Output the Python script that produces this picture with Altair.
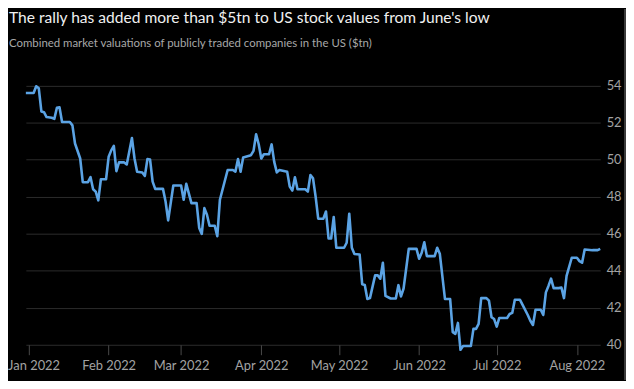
import altair as alt
import pandas as pd

dates = [
    "2021-12-31", "2022-01-03", "2022-01-04", "2022-01-05", "2022-01-06", "2022-01-07",
    "2022-01-08", "2022-01-10", "2022-01-11", "2022-01-12", "2022-01-13", "2022-01-14",
    "2022-01-17", "2022-01-18", "2022-01-19", "2022-01-21", "2022-01-22", "2022-01-24",
    "2022-01-25", "2022-01-26", "2022-01-27", "2022-01-28", "2022-01-29", "2022-01-31",
    "2022-02-01", "2022-02-02", "2022-02-03", "2022-02-04", "2022-02-05", "2022-02-07",
    "2022-02-08", "2022-02-10", "2022-02-11", "2022-02-12", "2022-02-14", "2022-02-15",
    "2022-02-16", "2022-02-17", "2022-02-18", "2022-02-19", "2022-02-22", "2022-02-23",
    "2022-02-24", "2022-02-26", "2022-03-01", "2022-03-02", "2022-03-03", "2022-03-05",
    "2022-03-07", "2022-03-08", "2022-03-09", "2022-03-10", "2022-03-11", "2022-03-12",
    "2022-03-14", "2022-03-15", "2022-03-16", "2022-03-19", "2022-03-21", "2022-03-22",
    "2022-03-23", "2022-03-24", "2022-03-25", "2022-03-27", "2022-03-28", "2022-03-29",
    "2022-03-30", "2022-03-31", "2022-04-01", "2022-04-02", "2022-04-04", "2022-04-05",
    "2022-04-06", "2022-04-07", "2022-04-08", "2022-04-11", "2022-04-12", "2022-04-13",
    "2022-04-14", "2022-04-15", "2022-04-18", "2022-04-19", "2022-04-20", "2022-04-21",
    "2022-04-22", "2022-04-23", "2022-04-25", "2022-04-26", "2022-04-27", "2022-04-28",
    "2022-04-29", "2022-04-30", "2022-05-03", "2022-05-04", "2022-05-05", "2022-05-06",
    "2022-05-07", "2022-05-09", "2022-05-10", "2022-05-11", "2022-05-12", "2022-05-13",
    "2022-05-15", "2022-05-16", "2022-05-17", "2022-05-18", "2022-05-19", "2022-05-21",
    "2022-05-23", "2022-05-24", "2022-05-25", "2022-05-26", "2022-05-28", "2022-05-31",
    "2022-06-01", "2022-06-02", "2022-06-03", "2022-06-04", "2022-06-07", "2022-06-08",
    "2022-06-09", "2022-06-11", "2022-06-13", "2022-06-14", "2022-06-15", "2022-06-16",
    "2022-06-17", "2022-06-18", "2022-06-21", "2022-06-22", "2022-06-23", "2022-06-24",
    "2022-06-25", "2022-06-27", "2022-06-28", "2022-06-29", "2022-06-30", "2022-07-01",
    "2022-07-02", "2022-07-05", "2022-07-06", "2022-07-07", "2022-07-08", "2022-07-10",
    "2022-07-11", "2022-07-13", "2022-07-14", "2022-07-15", "2022-07-16", "2022-07-18",
    "2022-07-19", "2022-07-20", "2022-07-21", "2022-07-22", "2022-07-23", "2022-07-25",
    "2022-07-26", "2022-07-27", "2022-07-28", "2022-07-30", "2022-08-01", "2022-08-02",
    "2022-08-03", "2022-08-04", "2022-08-07", "2022-08-09", "2022-08-10",
]

values = [
    53.6, 53.6, 53.96, 53.85, 52.6, 52.56,
    52.3, 52.26, 52.2, 52.8, 52.83, 52.03,
    52.03, 51.85, 50.87, 50.06, 48.78, 48.78,
    49.05, 48.4, 48.27, 47.8, 48.94, 48.94,
    50.15, 50.5, 50.74, 49.38, 49.85, 49.85,
    49.74, 51.17, 50.06, 49.35, 49.3, 49.12,
    50.03, 50.01, 48.81, 48.42, 48.42, 47.74,
    46.72, 48.6, 48.6, 47.83, 48.69, 47.65,
    47.65, 46.31, 45.99, 47.38, 47.02, 46.43,
    46.43, 45.86, 47.83, 49.44, 49.44, 49.35,
    50.03, 49.35, 50.12, 50.2, 50.24, 50.47,
    51.37, 50.83, 50.06, 50.29, 50.29, 50.82,
    49.88, 49.31, 49.44, 49.35, 48.54, 48.33,
    49.05, 48.4, 48.4, 48.27, 49.17, 48.99,
    48.0, 46.81, 46.81, 47.2, 45.74, 45.74,
    46.9, 45.24, 45.24, 45.51, 47.08, 45.24,
    44.9, 44.88, 43.27, 43.23, 42.47, 42.52,
    43.75, 43.75, 43.57, 44.43, 42.64, 42.5,
    42.5, 43.22, 42.61, 43.04, 45.18, 45.18,
    44.65, 44.97, 45.54, 44.79, 44.79, 45.24,
    44.92, 42.47, 42.47, 40.68, 40.59, 41.18,
    39.73, 39.93, 39.93, 40.86, 40.86, 41.13,
    42.52, 42.52, 42.38, 41.49, 41.39, 40.98,
    41.45, 41.45, 41.66, 41.72, 42.43, 42.43,
    42.16, 41.61, 41.3, 41.07, 41.89, 41.89,
    41.61, 42.83, 43.18, 43.57, 43.06, 43.06,
    43.09, 42.52, 43.72, 44.7, 44.7, 44.52,
    44.43, 45.15, 45.11, 45.11, 45.18,
]

y_ticks = [40, 42, 44, 46, 48, 50, 52, 54]
month_ticks = [1, 2, 3, 4, 5, 6, 7, 8]

title_text = "The rally has added more than $5tn to US stock values from June's low"
subtitle_text = "Combined market valuations of publicly traded companies in the US ($tn)"

df = pd.DataFrame({"date": dates, "value": values})

FONT = "Lato, Roboto, sans-serif"

line = alt.Chart(df).mark_line(color="#5ba3e4", strokeWidth=2.6, strokeJoin="round").encode(
    x=alt.X(
        "date:T",
        title=None,
        scale=alt.Scale(domain=[alt.DateTime(year=2021, month=12, date=31),
                                alt.DateTime(year=2022, month=8, date=10)]),
        axis=alt.Axis(
            values=[alt.DateTime(year=2022, month=m, date=1) for m in month_ticks],
            format="%b %Y",
            grid=False,
            domain=False,
            ticks=True,
            tickSize=10,
            tickColor="#4a4a4a",
            tickWidth=1,
            labelColor="#a3a3a3",
            labelFontSize=13,
            labelFont=FONT,
            labelPadding=5,
            labelAlign={"condition": {"test": "month(datum.value) == 0", "value": "left"},
                        "value": "center"},
            labelOffset={"condition": {"test": "month(datum.value) == 0", "value": -21},
                         "value": 0},
        ),
    ),
    y=alt.Y(
        "value:Q",
        title=None,
        scale=alt.Scale(domain=[40, 55], nice=False, zero=False),
        axis=alt.Axis(
            orient="right",
            values=y_ticks,
            grid=True,
            gridColor="#2c2c2c",
            gridWidth=1,
            domain=False,
            ticks=False,
            labelColor="#a3a3a3",
            labelFontSize=13,
            labelFont=FONT,
            labelPadding=6,
            labelAlign="left",
        ),
    ),
)

border = alt.Chart(df).mark_rule(color="#3c3c3c", strokeWidth=1.5).encode(
    x=alt.value(604), y=alt.value(-58), y2=alt.value(315)
)

chart = alt.layer(line, border).properties(
    width=579,
    height=280,
    background="#000000",
    padding={"left": 18, "top": 58, "right": 26, "bottom": 35},
    autosize=alt.AutoSizeParams(type="none"),
    title=alt.TitleParams(
        text=title_text,
        subtitle=subtitle_text,
        anchor="start",
        frame="group",
        font=FONT,
        subtitleFont=FONT,
        fontSize=15.7,
        subtitleFontSize=11.5,
        fontWeight="normal",
        color="#f0f0f0",
        subtitleColor="#a8a8a8",
        dx=-17,
        offset=-42,
        subtitlePadding=11,
    ),
).configure_view(stroke=None)

chart.save("out.html", embed_options={"renderer": "svg", "actions": False})
